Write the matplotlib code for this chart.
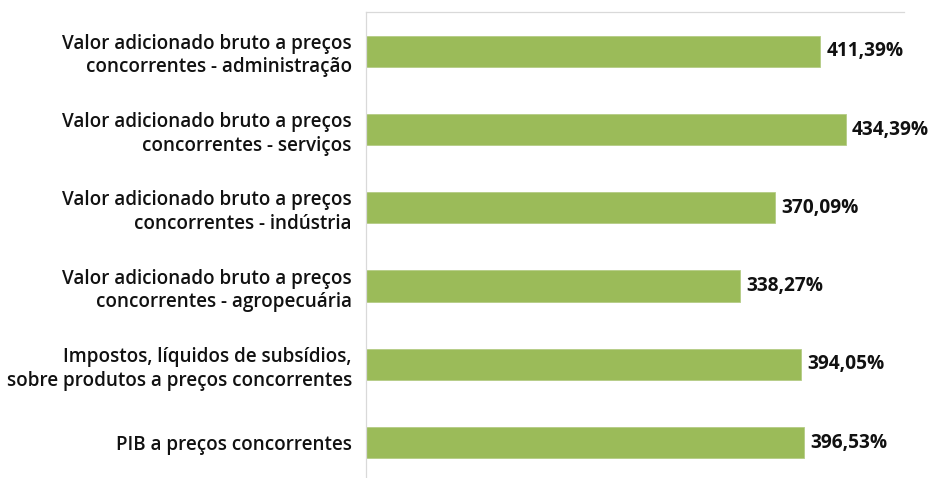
import matplotlib
matplotlib.use("Agg")
import matplotlib.pyplot as plt

categories = [
    "Valor adicionado bruto a preços\nconcorrentes - administração",
    "Valor adicionado bruto a preços\nconcorrentes - serviços",
    "Valor adicionado bruto a preços\nconcorrentes - indústria",
    "Valor adicionado bruto a preços\nconcorrentes - agropecuária",
    "Impostos, líquidos de subsídios,\nsobre produtos a preços concorrentes",
    "PIB a preços concorrentes",
]
values = [411.39, 434.39, 370.09, 338.27, 394.05, 396.53]
value_labels = ["411,39%", "434,39%", "370,09%", "338,27%", "394,05%", "396,53%"]

plt.rcParams['font.family'] = ['Open Sans', 'DejaVu Sans']

fig = plt.figure(figsize=(9.38, 4.78), dpi=100)
W, H = 938, 478
left, right, top, bottom = 365.7, 904, 12, 482
ax = fig.add_axes([left / W, 1 - bottom / H, (right - left) / W, (bottom - top) / H])

y = list(range(len(categories)))
ax.barh(y, values, height=0.4, color="#9bbb59", edgecolor="#b5cc85", linewidth=0.6)
ax.set_ylim(len(categories) - 0.5, -0.5)
ax.set_xlim(0, 487)

for yi, v, lab in zip(y, values, value_labels):
    ax.annotate(lab, xy=(v, yi), xytext=(4.5, 0), textcoords="offset points",
                va="center", ha="left", fontsize=13.8, fontweight="bold", color="#111111")

ax.set_yticks(y)
ax.set_yticklabels(categories, fontsize=13.6, fontweight="semibold", color="#111111",
                   linespacing=1.25)
for t in ax.get_yticklabels():
    t.set_horizontalalignment("right")
    t.set_multialignment("right")
ax.tick_params(axis="y", length=0, pad=10)
ax.set_xticks([])

for s in ["bottom", "right"]:
    ax.spines[s].set_visible(False)
for s in ["left", "top"]:
    ax.spines[s].set_color("#d9d9d9")
    ax.spines[s].set_linewidth(0.9)

fig.savefig("out.png", dpi=100)
